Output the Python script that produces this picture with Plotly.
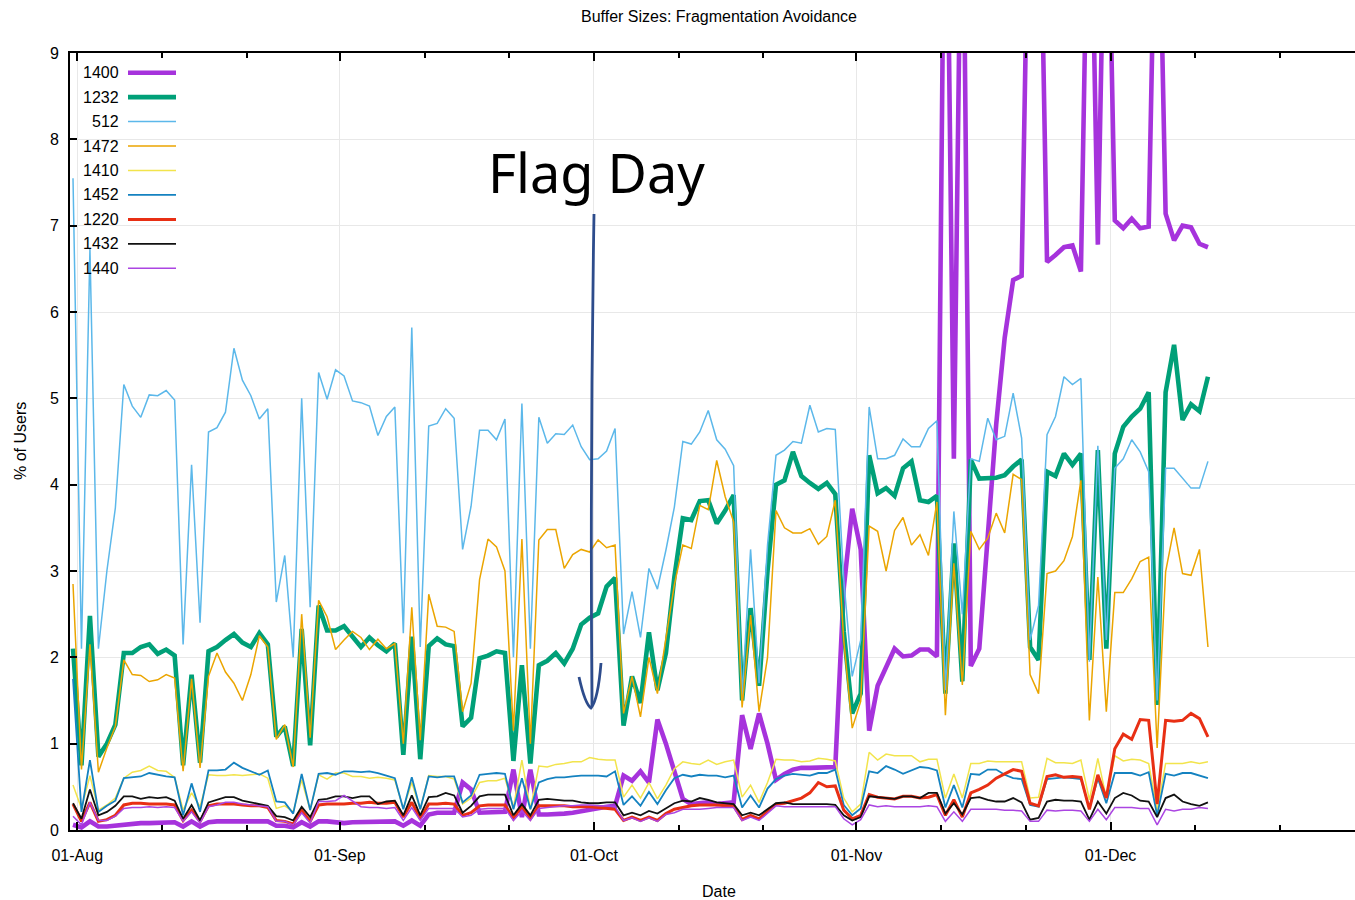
import pandas as pd
import plotly.graph_objects as go

# ---------------- data ----------------
start_date = "2016-07-31 12:00"
n_days = 135
dates = pd.date_range(start_date, periods=n_days, freq="D")

names = ["1400", "1232", "512", "1472", "1410", "1452", "1220", "1432", "1440"]
colors = ["#a633dc", "#00a078", "#5cb8ea", "#eba500", "#f2e44c", "#1482c0", "#e82f14", "#111111", "#ab45e2"]
widths = [4.6, 4.6, 1.5, 1.5, 1.5, 1.8, 3.0, 1.8, 1.5]

s1400 = [0.06, 0.03, 0.1, 0.04, 0.04, 0.05, 0.07, 0.08, 0.08, 0.08,
         0.08, 0.08, 0.09, 0.04, 0.1, 0.04, 0.09, 0.1, 0.1, 0.1,
         0.1, 0.11, 0.1, 0.1, 0.05, 0.05, 0.03, 0.09, 0.04, 0.1,
         0.1, 0.09, 0.08, 0.09, 0.09, 0.1, 0.09, 0.09, 0.1, 0.05,
         0.11, 0.05, 0.18, 0.2, 0.2, 0.2, 0.55, 0.47, 0.2, 0.2,
         0.2, 0.21, 0.7, 0.15, 0.7, 0.18, 0.18, 0.18, 0.19, 0.2,
         0.22, 0.24, 0.26, 0.27, 0.28, 0.63, 0.57, 0.68, 0.55, 1.28,
         1.0, 0.68, 0.36, 0.3, 0.31, 0.32, 0.3, 0.31, 0.32, 1.33,
         0.94, 1.35, 1.0, 0.58, 0.65, 0.7, 0.72, 0.72, 0.72, 0.73,
         0.73, 2.8, 3.72, 3.25, 1.15, 1.67, 1.89, 2.1, 2.01, 2.02,
         2.09, 2.09, 2.01, 12.5, 4.3, 12.0, 1.9, 2.1, 3.4, 4.7,
         5.7, 6.37, 6.42, 12.0, 12.0, 6.58, 6.66, 6.75, 6.77, 6.47,
         12.0, 6.78, 12.0, 7.06, 6.97, 7.08, 6.97, 6.99, 12.0, 7.14,
         6.83, 7.0, 6.98, 6.79, 6.75]

s1232 = [2.1, 0.75, 2.48, 0.85, 1.0, 1.22, 2.05, 2.05, 2.12, 2.15,
         2.04, 2.09, 2.02, 0.75, 1.8, 0.78, 2.07, 2.12, 2.2, 2.27,
         2.17, 2.12, 2.28, 2.15, 1.08, 1.2, 0.74, 2.33, 0.98, 2.6,
         2.31, 2.31, 2.36, 2.23, 2.12, 2.23, 2.14, 2.07, 2.16, 0.87,
         2.24, 0.82, 2.13, 2.22, 2.15, 2.13, 1.2, 1.3, 1.99, 2.02,
         2.07, 2.05, 0.8, 1.91, 0.77, 1.91, 1.96, 2.05, 1.93, 2.1,
         2.38, 2.46, 2.51, 2.82, 2.92, 1.21, 1.78, 1.47, 2.29, 1.62,
         2.05, 2.93, 3.61, 3.59, 3.81, 3.82, 3.55, 3.70, 3.88, 1.5,
         2.57, 1.67, 3.0, 4.0, 4.05, 4.38, 4.1, 4.02, 3.95, 4.02,
         3.89, 2.3, 1.35, 1.58, 4.34, 3.9, 3.96, 3.87, 4.19, 4.27,
         3.82, 3.8, 3.87, 1.58, 3.32, 1.72, 4.29, 4.07, 4.08, 4.08,
         4.11, 4.21, 4.29, 2.12, 1.97, 4.15, 4.1, 4.36, 4.23, 4.36,
         1.97, 4.4, 2.1, 4.36, 4.67, 4.79, 4.88, 5.07, 1.45, 5.07,
         5.62, 4.75, 4.93, 4.85, 5.25]

s512 = [7.55, 2.1, 6.73, 2.1, 3.0, 3.73, 5.16, 4.91, 4.78, 5.04,
        5.03, 5.09, 4.98, 2.15, 4.23, 2.4, 4.61, 4.66, 4.84, 5.58,
        5.21, 5.03, 4.76, 4.88, 2.64, 3.18, 2.0, 5.0, 2.58, 5.3,
        4.99, 5.33, 5.26, 4.97, 4.95, 4.91, 4.57, 4.79, 4.9, 2.28,
        5.82, 2.12, 4.68, 4.71, 4.88, 4.77, 3.25, 3.75, 4.63, 4.63,
        4.52, 4.76, 2.0, 4.94, 2.1, 4.78, 4.48, 4.59, 4.58, 4.69,
        4.44, 4.29, 4.3, 4.39, 4.65, 2.27, 2.76, 2.23, 3.03, 2.79,
        3.24, 3.74, 4.5, 4.47, 4.61, 4.86, 4.52, 4.41, 4.22, 1.55,
        3.25, 1.7, 3.3, 4.34, 4.4, 4.5, 4.48, 4.92, 4.61, 4.65,
        4.64, 2.9, 1.78, 2.2, 4.9, 4.3, 4.3, 4.34, 4.53, 4.44,
        4.44, 4.65, 4.74, 1.62, 3.69, 2.5, 4.3, 4.27, 4.77, 4.52,
        4.56, 5.06, 4.54, 2.2, 2.6, 4.58, 4.79, 5.25, 5.16, 5.23,
        1.95, 4.45, 2.2, 4.19, 4.3, 4.52, 4.38, 4.15, 1.5, 4.19,
        4.19, 4.07, 3.96, 3.96, 4.27]

s1472 = [2.85, 0.7, 2.15, 0.67, 0.95, 1.2, 1.97, 1.8, 1.79, 1.72,
         1.74, 1.8, 1.76, 0.68, 1.75, 0.72, 1.78, 2.05, 1.83, 1.7,
         1.5, 1.8, 2.25, 2.12, 1.05, 1.22, 0.73, 2.5, 1.07, 2.66,
         2.47, 2.09, 2.2, 2.3, 2.23, 2.09, 2.21, 2.1, 2.16, 1.0,
         2.58, 1.04, 2.73, 2.36, 2.35, 2.3, 1.37, 1.7, 2.9, 3.37,
         3.28, 3.0, 1.15, 3.37, 1.0, 3.36, 3.48, 3.48, 3.03, 3.19,
         3.25, 3.22, 3.36, 3.27, 3.3, 1.35, 1.78, 1.31, 2.0, 1.58,
         2.22, 2.84, 3.3, 3.26, 3.76, 3.71, 4.28, 3.86, 3.57, 1.42,
         2.49, 1.37, 2.0, 3.7, 3.5, 3.44, 3.44, 3.49, 3.31, 3.4,
         3.82, 2.2, 1.18, 1.49, 3.52, 3.46, 3.0, 3.47, 3.62, 3.3,
         3.42, 3.18, 3.8, 1.33, 3.09, 1.68, 3.46, 3.25, 3.38, 3.67,
         3.44, 4.12, 4.06, 1.8, 1.58, 2.97, 3.0, 3.12, 3.4, 4.05,
         1.27, 2.93, 1.37, 2.75, 2.75, 2.91, 3.11, 3.16, 0.95, 2.99,
         3.5, 2.97, 2.95, 3.25, 2.12]

s1410 = [0.52, 0.25, 0.63, 0.23, 0.29, 0.37, 0.6, 0.67, 0.69, 0.74,
         0.69, 0.68, 0.61, 0.23, 0.43, 0.27, 0.64, 0.63, 0.63, 0.64,
         0.63, 0.64, 0.65, 0.6, 0.25, 0.28, 0.21, 0.58, 0.23, 0.64,
         0.59, 0.66, 0.66, 0.62, 0.62, 0.6, 0.61, 0.6, 0.58,
         0.25, 0.55, 0.24, 0.63, 0.62, 0.62, 0.59, 0.3, 0.37, 0.55,
         0.57, 0.57, 0.6, 0.26, 0.81, 0.24, 0.74, 0.73, 0.76, 0.77,
         0.79, 0.79, 0.84, 0.82, 0.81, 0.81, 0.38, 0.52, 0.37, 0.55,
         0.36, 0.52, 0.71, 0.79, 0.77, 0.76, 0.81, 0.76, 0.79, 0.81,
         0.38, 0.52, 0.32, 0.55, 0.82, 0.81, 0.81,
         0.79, 0.8, 0.83, 0.82, 0.8, 0.37, 0.21, 0.3, 0.9, 0.81,
         0.88, 0.86, 0.86, 0.86, 0.79, 0.82, 0.82, 0.37, 0.65, 0.37,
         0.77, 0.77, 0.8, 0.79,
         0.79, 0.79, 0.79, 0.37, 0.38, 0.83, 0.78, 0.78, 0.77, 0.81,
         0.35, 0.83, 0.37, 0.86, 0.8, 0.82, 0.81, 0.77, 0.23, 0.77,
         0.77, 0.77, 0.79, 0.77, 0.79]

s1452 = [1.75, 0.21, 0.81, 0.21, 0.28, 0.34, 0.6, 0.61, 0.62, 0.66,
         0.64, 0.62, 0.61, 0.17, 0.54, 0.21, 0.69, 0.69, 0.7, 0.78,
         0.72, 0.68, 0.64, 0.69, 0.33, 0.32, 0.19, 0.65, 0.23, 0.65,
         0.66, 0.64, 0.68, 0.68, 0.67, 0.68, 0.66, 0.63, 0.6,
         0.24, 0.61, 0.24, 0.62, 0.61, 0.62, 0.62, 0.32, 0.4, 0.64,
         0.65, 0.66, 0.65, 0.24, 0.6, 0.24, 0.55, 0.59, 0.61, 0.61,
         0.62, 0.63, 0.63, 0.63, 0.62, 0.68, 0.29, 0.39, 0.28, 0.44,
         0.3, 0.46, 0.6, 0.64, 0.62, 0.64, 0.63, 0.63, 0.61, 0.63,
         0.26, 0.4, 0.26, 0.48, 0.59, 0.63, 0.65,
         0.64, 0.63, 0.66, 0.66, 0.7, 0.29, 0.17, 0.25, 0.68, 0.66,
         0.74, 0.7, 0.65, 0.69, 0.73, 0.72, 0.69, 0.26, 0.52, 0.26,
         0.65, 0.64, 0.7, 0.7,
         0.64, 0.6, 0.59, 0.29, 0.27, 0.59, 0.6, 0.61, 0.6, 0.59,
         0.25, 0.6, 0.31, 0.66, 0.66, 0.66, 0.63, 0.67, 0.17, 0.65,
         0.63, 0.66, 0.66, 0.63, 0.6]

s1220 = [0.3, 0.1, 0.32, 0.1, 0.12, 0.17, 0.29, 0.31, 0.31, 0.3,
         0.3, 0.3, 0.29, 0.11, 0.23, 0.1, 0.28, 0.3, 0.3, 0.3,
         0.29, 0.28, 0.28, 0.26, 0.11, 0.1, 0.07, 0.23, 0.1, 0.29,
         0.3, 0.3, 0.3, 0.31, 0.31, 0.32, 0.31, 0.31, 0.32,
         0.15, 0.32, 0.13, 0.3, 0.3, 0.31, 0.3, 0.17, 0.2, 0.28,
         0.29, 0.29, 0.29, 0.13, 0.28, 0.13, 0.28, 0.28, 0.28, 0.28,
         0.27, 0.27, 0.27, 0.26, 0.25, 0.24, 0.11, 0.15, 0.11, 0.15,
         0.11, 0.19, 0.24, 0.26, 0.28, 0.29, 0.29, 0.29, 0.28, 0.28,
         0.12, 0.17, 0.13, 0.22, 0.3, 0.31, 0.34,
         0.37, 0.43, 0.55, 0.5, 0.51, 0.23, 0.13, 0.17, 0.41, 0.38,
         0.37, 0.36, 0.39, 0.39, 0.37, 0.38, 0.41, 0.17, 0.35, 0.15,
         0.43, 0.47, 0.52, 0.6,
         0.65, 0.7, 0.68, 0.31, 0.28, 0.62, 0.64, 0.61, 0.62, 0.61,
         0.24, 0.64, 0.37, 0.94, 1.11, 1.05, 1.28, 1.27, 0.3, 1.27,
         1.26, 1.27, 1.35, 1.29, 1.08]

s1432 = [0.31, 0.13, 0.47, 0.17, 0.21, 0.28, 0.39, 0.39, 0.36, 0.38,
         0.37, 0.38, 0.34, 0.13, 0.29, 0.11, 0.32, 0.35, 0.38, 0.38,
         0.34, 0.32, 0.3, 0.28, 0.16, 0.15, 0.11, 0.27, 0.15, 0.35,
         0.36, 0.39, 0.39, 0.37, 0.39, 0.39, 0.3, 0.33, 0.34,
         0.17, 0.4, 0.17, 0.38, 0.39, 0.43, 0.4, 0.2, 0.28, 0.39,
         0.41, 0.41, 0.41, 0.17, 0.3, 0.17, 0.35, 0.36, 0.35, 0.34,
         0.34, 0.32, 0.31, 0.31, 0.32, 0.32, 0.17, 0.2, 0.17, 0.22,
         0.19, 0.25, 0.31, 0.34, 0.33, 0.37, 0.35, 0.32, 0.31, 0.3,
         0.17, 0.2, 0.17, 0.24, 0.31, 0.32, 0.3,
         0.3, 0.3, 0.3, 0.3, 0.29, 0.17, 0.11, 0.15, 0.39, 0.38,
         0.37, 0.36, 0.39, 0.39, 0.37, 0.43, 0.43, 0.19, 0.31, 0.18,
         0.37, 0.38, 0.35, 0.33,
         0.33, 0.37, 0.32, 0.12, 0.14, 0.33, 0.35, 0.34, 0.34, 0.33,
         0.12, 0.33, 0.19, 0.37, 0.43, 0.4, 0.34, 0.33, 0.15, 0.37,
         0.41, 0.33, 0.3, 0.28, 0.32]

s1440 = [0.16, 0.06, 0.32, 0.11, 0.11, 0.16, 0.25, 0.26, 0.26, 0.27,
         0.26, 0.27, 0.26, 0.1, 0.21, 0.08, 0.27, 0.29, 0.32, 0.32,
         0.3, 0.29, 0.28, 0.27, 0.1, 0.1, 0.06, 0.2, 0.08, 0.33,
         0.33, 0.34, 0.4, 0.33, 0.27, 0.26, 0.26, 0.25, 0.26,
         0.11, 0.26, 0.11, 0.25, 0.25, 0.25, 0.25, 0.15, 0.17, 0.24,
         0.25, 0.25, 0.25, 0.11, 0.22, 0.11, 0.25, 0.26, 0.27, 0.28,
         0.28, 0.29, 0.29, 0.28, 0.28, 0.27, 0.11, 0.14, 0.1, 0.14,
         0.1, 0.18, 0.2, 0.24, 0.24, 0.24, 0.25, 0.26, 0.26, 0.26,
         0.11, 0.15, 0.11, 0.19, 0.28, 0.27, 0.27,
         0.27, 0.27, 0.27, 0.27, 0.27, 0.13, 0.06, 0.12, 0.29, 0.27,
         0.28, 0.27, 0.27, 0.27, 0.27, 0.28, 0.27, 0.1, 0.21, 0.1,
         0.24, 0.24, 0.24, 0.24,
         0.23, 0.23, 0.22, 0.1, 0.1, 0.23, 0.22, 0.23, 0.23, 0.22,
         0.1, 0.24, 0.12, 0.26, 0.26, 0.26, 0.25, 0.25, 0.06, 0.24,
         0.22, 0.24, 0.24, 0.26, 0.25]

series = [s1400, s1232, s512, s1472, s1410, s1452, s1220, s1432, s1440]

x_range = ["2016-07-31 03:30", "2016-12-29 20:40"]
major_tick0 = "2016-08-01"
minor_ticks = ["2016-08-11", "2016-08-21", "2016-09-11", "2016-09-21",
               "2016-10-11", "2016-10-21", "2016-11-11", "2016-11-21",
               "2016-12-11", "2016-12-21"]
y_range = [0, 9]

title_text = "Buffer Sizes: Fragmentation Avoidance"
x_title = "Date"
y_title = "% of Users"
note_text = "Flag Day"

# ---------------- layout helpers ----------------
W, H = 1355, 900
L, R, T, B = 70, 1355, 53, 830


def px(xp):
    return (xp - L) / (R - L)


def py(yp):
    return (B - yp) / (B - T)


FONT = "Liberation Sans, Arial, sans-serif"

fig = go.Figure()
for nm, vals, col, w in zip(names, series, colors, widths):
    fig.add_trace(go.Scatter(x=dates, y=vals, mode="lines", name=nm,
                             line=dict(color=col, width=w),
                             showlegend=False, hoverinfo="x+y+name"))

shapes = []
# legend background (hides grid only)
shapes.append(dict(type="rect", xref="paper", yref="paper",
                   x0=px(71), x1=px(186), y0=py(282), y1=py(54.5),
                   fillcolor="white", line=dict(width=0), layer="between"))

annotations = []
leg_y0, leg_dy = 72.7, 24.45
for k, (nm, col, w) in enumerate(zip(names, colors, widths)):
    yk = py(leg_y0 + k * leg_dy)
    annotations.append(dict(text=nm, x=px(120.5), y=yk, xref="paper", yref="paper",
                            xanchor="right", yanchor="middle", showarrow=False,
                            font=dict(family=FONT, size=16, color="black")))
    shapes.append(dict(type="line", xref="paper", yref="paper",
                       x0=px(128), x1=px(176), y0=yk, y1=yk,
                       line=dict(color=col, width=w), layer="above"))

# hand-drawn style arrow
arrow_col = "#2d4c8c"
shapes.append(dict(type="path", xref="paper", yref="paper",
                   path=f"M {px(594)},{py(214)} Q {px(590)},{py(460)} {px(592)},{py(706)}",
                   line=dict(color=arrow_col, width=2.8), layer="above"))
shapes.append(dict(type="path", xref="paper", yref="paper",
                   path=(f"M {px(579)},{py(677)} Q {px(585)},{py(704)} {px(591)},{py(708)} "
                         f"Q {px(598)},{py(700)} {px(601)},{py(663)}"),
                   line=dict(color=arrow_col, width=2.8), layer="above"))

annotations.append(dict(text=note_text, x=px(596), y=py(172), xref="paper", yref="paper",
                        xanchor="center", yanchor="middle", showarrow=False,
                        font=dict(family="Noto Sans, DejaVu Sans, sans-serif", size=54, color="black")))
annotations.append(dict(text=x_title, x=px(719), y=py(891), xref="paper", yref="paper",
                        xanchor="center", yanchor="middle", showarrow=False,
                        font=dict(family=FONT, size=16, color="black")))
annotations.append(dict(text=y_title, x=px(20), y=py(441), xref="paper", yref="paper",
                        xanchor="center", yanchor="middle", showarrow=False, textangle=-90,
                        font=dict(family=FONT, size=16, color="black")))

fig.update_layout(
    width=W, height=H,
    margin=dict(l=L, r=W - R, t=T, b=H - B, pad=0),
    paper_bgcolor="white", plot_bgcolor="white",
    title=dict(text=title_text, x=719 / W, xref="container", xanchor="center",
               y=1 - 16 / H, yref="container", yanchor="middle",
               font=dict(family=FONT, size=16, color="black")),
    shapes=shapes, annotations=annotations,
    showlegend=False,
    xaxis=dict(type="date", range=x_range, tickformat="%d-%b", dtick="M1", tick0=major_tick0,
               ticks="inside", ticklen=8, tickwidth=1.5, tickcolor="black",
               showline=True, linecolor="black", linewidth=2, mirror="ticks",
               showgrid=True, gridcolor="#e8e8e8", gridwidth=1, zeroline=False,
               ticklabelstandoff=10,
               tickfont=dict(family=FONT, size=16, color="black"),
               minor=dict(tickmode="array", tickvals=minor_ticks, ticks="inside",
                          ticklen=5, tickwidth=1.5, tickcolor="black", showgrid=False)),
    yaxis=dict(range=y_range, dtick=1, tick0=0, ticks="inside", ticklen=7, tickwidth=1.5,
               tickcolor="black", showline=True, linecolor="black", linewidth=2,
               showgrid=True, gridcolor="#e8e8e8", gridwidth=1, zeroline=False,
               ticklabelstandoff=6,
               tickfont=dict(family=FONT, size=16, color="black")),
)

fig.write_html("out.html")
